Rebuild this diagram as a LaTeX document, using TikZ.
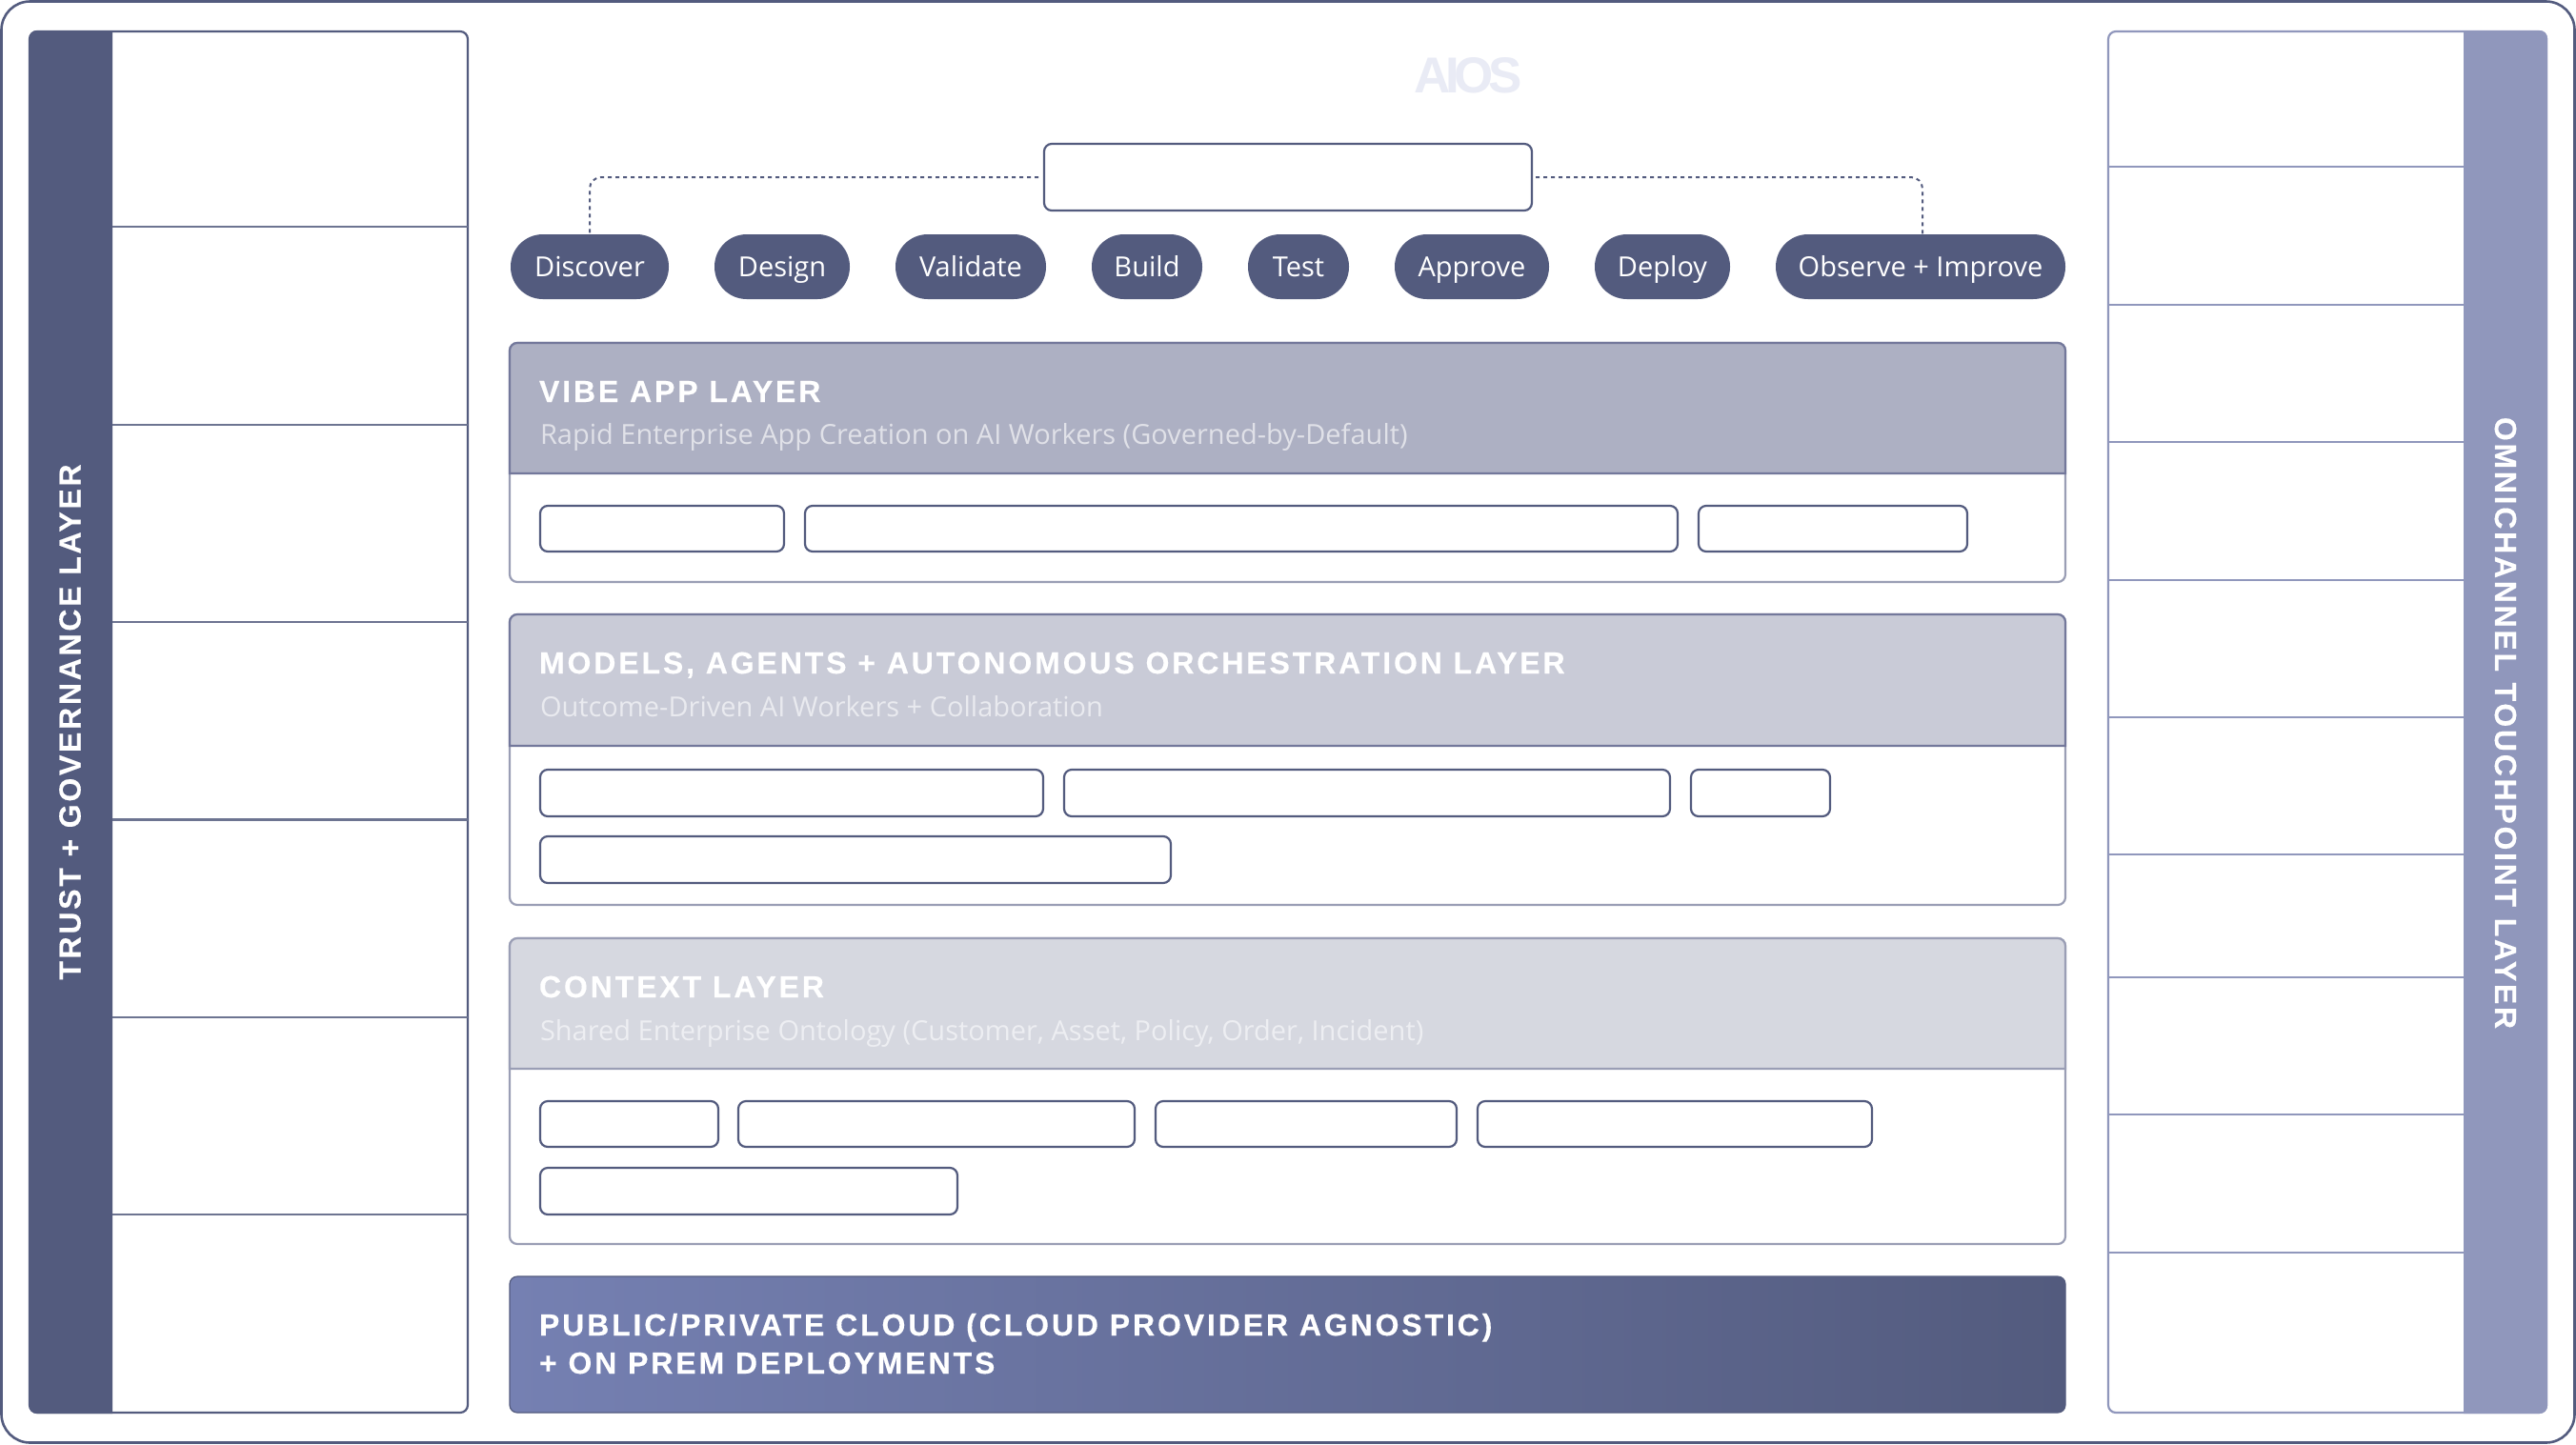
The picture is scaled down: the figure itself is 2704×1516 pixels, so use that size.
\documentclass[tikz,border=0pt]{standalone}
\usepackage{fontspec}
\usetikzlibrary{calc}
\setmainfont{Open Sans}
\newfontfamily\headfont[LetterSpace=9,BoldFeatures={FakeBold=0.3}]{Liberation Sans}
\newfontfamily\sidefont[LetterSpace=8.5,BoldFeatures={FakeBold=0.3}]{Liberation Sans}
\newfontfamily\logofont[LetterSpace=-10]{Liberation Sans}
\definecolor{ink}{HTML}{535B7E}
\definecolor{peri}{HTML}{9097BC}
\definecolor{rimA}{HTML}{73789B}
\definecolor{rimB}{HTML}{9A9EB5}
\definecolor{headA}{HTML}{ADB0C3}
\definecolor{headB}{HTML}{C9CBD7}
\definecolor{headC}{HTML}{D6D8E0}
\definecolor{subA}{HTML}{E0E1E8}
\definecolor{subB}{HTML}{E9EAEF}
\definecolor{subC}{HTML}{EDEEF2}
\definecolor{logoc}{HTML}{E9EBF5}
\definecolor{cloudL}{HTML}{7580B2}
\tikzset{
  every node/.style={inner sep=0pt,outer sep=0pt},
  outerframe/.style={draw=ink,line width=1.3pt,rounded corners=15pt,fill=white},
  chip/.style={draw=ink,line width=1.1pt,rounded corners=4pt,fill=white},
  layerbody/.style={draw=rimB,line width=1.1pt,rounded corners=4pt,fill=white},
  pillbox/.style={fill=ink,rounded corners=16.9pt,text=white},
  conn/.style={draw=ink,line width=1pt,dash pattern=on 2pt off 2pt,rounded corners=6pt},
  headtext/.style={anchor=base west,text=white,font=\fontsize{16}{19}\headfont\bfseries},
  subtext/.style={anchor=base west,font=\fontsize{14.5}{17}\selectfont},
  sidetext/.style={text=white,font=\fontsize{16}{19}\sidefont\bfseries},
}
\newcommand\bx[6]{%
  \pgfmathsetmacro\bw{(#5-#3)*0.5}\pgfmathsetmacro\bh{(#6-#4)*0.5}%
  \node[#1,anchor=north west,minimum width=\bw pt,minimum height=\bh pt] (#2) at (#3,#4) {};}
\newcommand\layer[7]{% name, top, headerbottom, bottom, head colour, rim, title
  \bx{layerbody}{#1}{535}{#2}{2168}{#4}
  \path[fill=#5,draw=#6,line width=1.1pt] (535,#3) [rounded corners=4pt] -- (535,#2) -- (2168,#2) [sharp corners] -- (2168,#3) -- cycle;
  \node[headtext] (#1h) at (566,#2+62) {#7};
}
\begin{document}
\begin{tikzpicture}[x=0.5pt,y=-0.5pt]
\useasboundingbox (0,0) rectangle (2704,1516);
\bx{outerframe}{frame}{1.5}{1.5}{2702.5}{1514.5}
% left
\bx{draw=ink,line width=1.1pt,rounded corners=4pt,fill=white}{leftp}{31}{33}{491}{1483}
\fill[ink] (118,32) [rounded corners=4pt] -- (30.5,32) -- (30.5,1484) [sharp corners] -- (118,1484) -- cycle;
\foreach \y in {238,446,653,860.5,1068,1275} \draw[draw=ink!85!white,line width=1.1pt] (118,\y) -- (491,\y);
\node[sidetext,rotate=90] (trust) at (73.5,758) {TRUST + GOVERNANCE LAYER};
% right
\bx{draw=peri,line width=1.1pt,rounded corners=4pt,fill=white}{rightp}{2213}{33}{2673}{1483}
\fill[peri] (2586,32) [rounded corners=4pt] -- (2674,32) -- (2674,1484) [sharp corners] -- (2586,1484) -- cycle;
\foreach \y in {175,320,464,609,753,897,1026,1170,1315} \draw[draw=peri,line width=1.1pt] (2213,\y) -- (2586,\y);
\node[sidetext,rotate=-90] (omni) at (2630,759) {OMNICHANNEL TOUCHPOINT LAYER};
% logo
\node[text=logoc,font=\fontsize{26.5}{30}\logofont\bfseries,anchor=base] (logo) at (1541,97) {AIOS};
% top box & pills
\bx{chip}{topbox}{1096}{151}{1608}{221}
\newcommand\pill[4]{\pgfmathsetmacro\bw{(#3-#2)*0.5}\node[pillbox,minimum width=\bw pt,minimum height=34pt,anchor=north west] (#1) at (#2,246) {};
  \node[text=white,font=\fontsize{14.5}{17}\selectfont,anchor=base] (#1t) at ({(#2+#3)/2},290) {#4};}
\pill{discover}{536}{702}{Discover}
\pill{design}{750}{892}{Design}
\pill{validate}{940}{1098}{Validate}
\pill{build}{1146}{1262}{Build}
\pill{test}{1310}{1416}{Test}
\pill{approve}{1464}{1626}{Approve}
\pill{deploy}{1674}{1816}{Deploy}
\pill{observe}{1864}{2168}{Observe + Improve}
\draw[conn] ([xshift=-3pt]topbox.west) -| (discover.north);
\draw[conn] ([xshift=2pt]topbox.east) -| ([xshift=1pt]observe.north);
% layers
\layer{la}{360}{497}{611}{headA}{rimA}{VIBE APP LAYER}
\node[subtext,text=subA] (las) at (567,466) {Rapid Enterprise App Creation on AI Workers (Governed-by-Default)};
\bx{chip}{a1}{567}{531}{823}{579}
\bx{chip}{a2}{845}{531}{1761}{579}
\bx{chip}{a3}{1783}{531}{2065}{579}
\layer{lb}{645}{783}{950}{headB}{rimA}{MODELS, AGENTS + AUTONOMOUS ORCHESTRATION LAYER}
\node[subtext,text=subB] (lbs) at (567,752) {Outcome-Driven AI Workers + Collaboration};
\bx{chip}{b1}{567}{808}{1095}{857}
\bx{chip}{b2}{1117}{808}{1753}{857}
\bx{chip}{b3}{1775}{808}{1921}{857}
\bx{chip}{b4}{567}{878}{1229}{927}
\layer{lc}{985}{1122}{1306}{headC}{rimB}{CONTEXT LAYER}
\node[subtext,text=subC] (lcs) at (567,1092) {Shared Enterprise Ontology (Customer, Asset, Policy, Order, Incident)};
\bx{chip}{c1}{567}{1156}{754}{1204}
\bx{chip}{c2}{775}{1156}{1191}{1204}
\bx{chip}{c3}{1213}{1156}{1529}{1204}
\bx{chip}{c4}{1551}{1156}{1965}{1204}
\bx{chip}{c5}{567}{1226}{1005}{1275}
% cloud
\bx{rounded corners=4pt,left color=cloudL,right color=ink,draw=ink,line width=0.6pt}{cloud}{535}{1340}{2168}{1483}
\node[headtext] (cl1) at (566,1402) {PUBLIC/PRIVATE CLOUD (CLOUD PROVIDER AGNOSTIC)};
\node[headtext] (cl2) at (566,1442) {+ ON PREM DEPLOYMENTS};
\end{tikzpicture}
\end{document}
